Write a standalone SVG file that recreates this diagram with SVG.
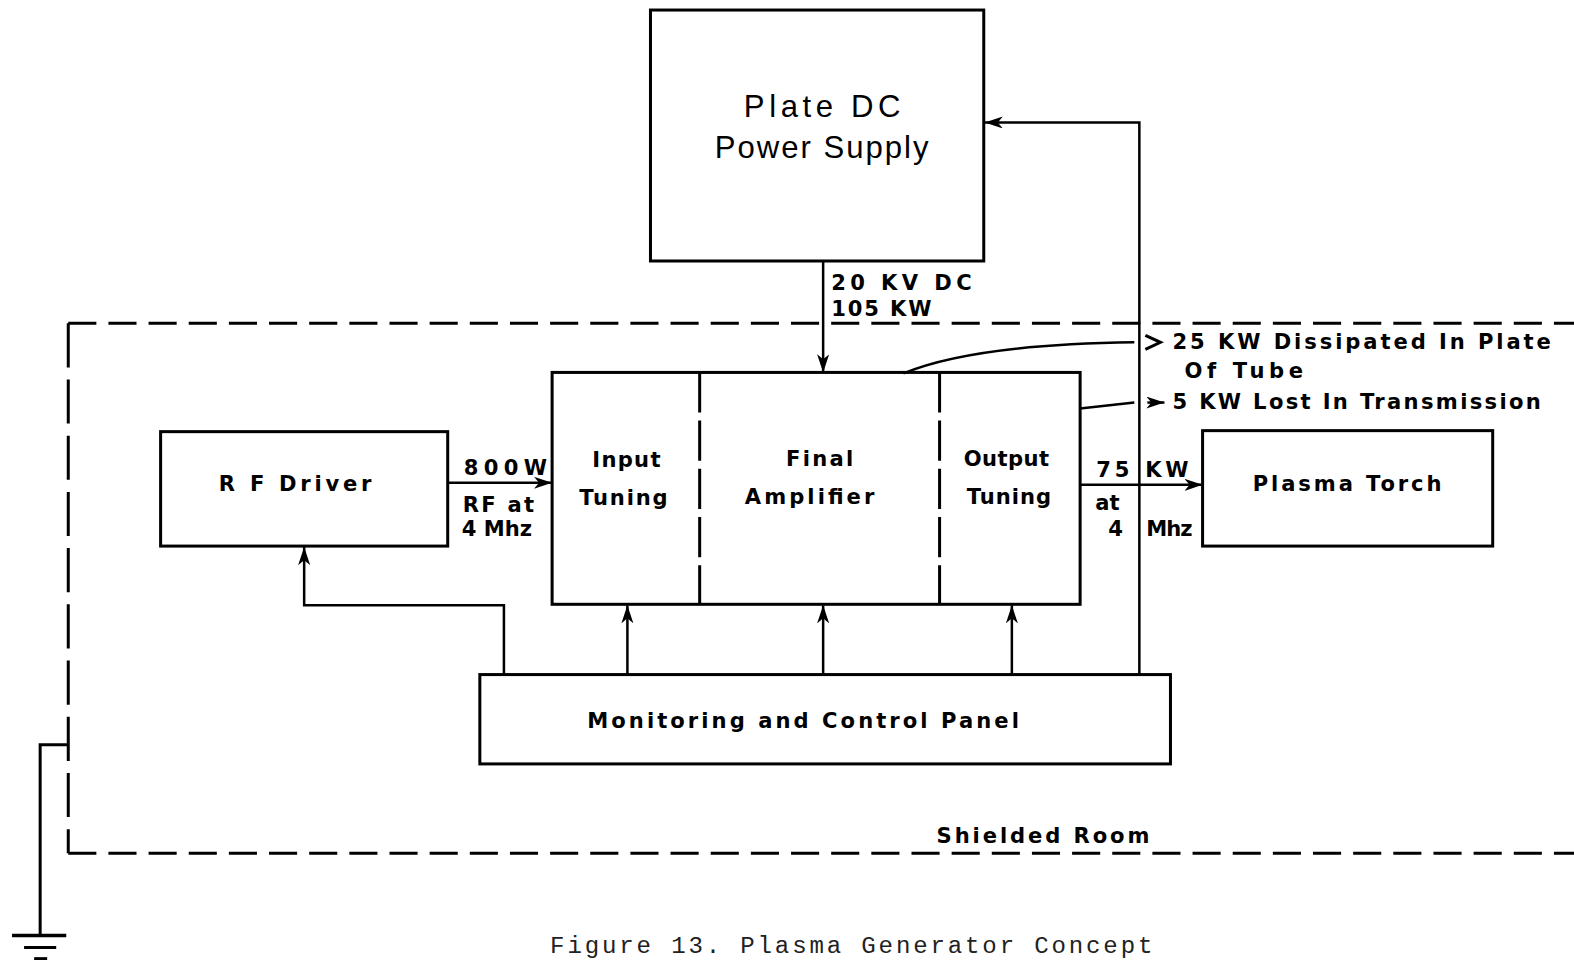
<svg xmlns="http://www.w3.org/2000/svg" width="1574" height="960" viewBox="0 0 1574 960">
<style>
.box{fill:none;stroke:#000;stroke-width:3}
.ln{fill:none;stroke:#000;stroke-width:2.5}
.dash{fill:none;stroke:#000;stroke-width:3;stroke-dasharray:28 12}
.vdash{fill:none;stroke:#000;stroke-width:3;stroke-dasharray:44 12}
.div{fill:none;stroke:#000;stroke-width:3;stroke-dasharray:40 8}
.t{font-family:"DejaVu Sans","Liberation Sans",Arial,sans-serif;font-weight:bold;font-size:21px;fill:#000}
.tl{font-family:"Liberation Sans",Arial,sans-serif;font-size:31px;fill:#000}
.cap{font-family:"Liberation Mono","Courier New",monospace;font-size:24px;fill:#222}
</style>
<defs>
<marker id="ar" markerUnits="userSpaceOnUse" markerWidth="20" markerHeight="14" refX="18" refY="6" orient="auto">
<path d="M0,0 L18,6 L0,12 L5,6 z" fill="#000"/>
</marker>
</defs>
<g transform="scale(1.00383)">
<g id="shielded-room">
<path class="dash" d="M68,322 H1574"/>
<path class="vdash" d="M68,322 V850"/>
<path class="dash" d="M68,850 H1574"/>
<text class="t" x="933" y="840" textLength="212" lengthAdjust="spacing">Shielded  Room</text>
</g>
<g id="ground">
<path class="ln" d="M68,742 H40 V932" style="stroke-width:3"/>
<path class="ln" d="M12,932 H66" style="stroke-width:3.5"/>
<path class="ln" d="M24,944 H56" style="stroke-width:3"/>
<path class="ln" d="M34,955 H47" style="stroke-width:3"/>
</g>
<g id="plate-dc">
<rect class="box" x="648" y="10" width="332" height="250"/>
<text class="tl" x="741" y="117" textLength="156" lengthAdjust="spacing">Plate DC</text>
<text class="tl" x="712" y="157" textLength="213" lengthAdjust="spacing">Power Supply</text>
</g>
<g id="rf-driver">
<rect class="box" x="160" y="430" width="286" height="114"/>
<text class="t" x="218" y="489" textLength="152" lengthAdjust="spacing">R  F  Driver</text>
</g>
<g id="amplifier">
<rect class="box" x="550" y="371" width="526" height="231"/>
<path class="div" d="M697,371 V602"/>
<path class="div" d="M936,371 V602"/>
<text class="t" x="590" y="465" textLength="68" lengthAdjust="spacing">Input</text>
<text class="t" x="577" y="503" textLength="88" lengthAdjust="spacing">Tuning</text>
<text class="t" x="783" y="464" textLength="67" lengthAdjust="spacing">Final</text>
<text class="t" x="742" y="502" textLength="129" lengthAdjust="spacing">Amplifier</text>
<text class="t" x="960" y="464" textLength="85" lengthAdjust="spacing">Output</text>
<text class="t" x="963" y="502" textLength="84" lengthAdjust="spacing">Tuning</text>
</g>
<g id="plasma-torch">
<rect class="box" x="1198" y="429" width="289" height="115"/>
<text class="t" x="1248" y="489" textLength="188" lengthAdjust="spacing">Plasma  Torch</text>
</g>
<g id="panel">
<rect class="box" x="478" y="672" width="688" height="89"/>
<text class="t" x="585" y="725" textLength="430" lengthAdjust="spacing">Monitoring  and  Control  Panel</text>
</g>
<g id="connectors">
<path class="ln" d="M820,260 V371" marker-end="url(#ar)"/>
<path class="ln" d="M1135,672 V122 H981" marker-end="url(#ar)"/>
<path class="ln" d="M446,481 H550" marker-end="url(#ar)"/>
<path class="ln" d="M1076,483 H1198" marker-end="url(#ar)"/>
<path class="ln" d="M502,672 V603 H303 V545" marker-end="url(#ar)"/>
<path class="ln" d="M625,672 V603" marker-end="url(#ar)"/>
<path class="ln" d="M820,672 V603" marker-end="url(#ar)"/>
<path class="ln" d="M1008,672 V603" marker-end="url(#ar)"/>
<path class="ln" d="M900,372 Q970,343 1130,341"/>
<path class="ln" d="M1141,334 L1156,341 L1141,348" style="stroke-width:3"/>
<path class="ln" d="M1076,407 L1130,401"/>
<path class="ln" d="M1143,401 H1160" marker-end="url(#ar)"/>
</g>
<g id="labels">
<text class="t" x="828" y="289" textLength="140" lengthAdjust="spacing">20 KV  DC</text>
<text class="t" x="828" y="315" textLength="100" lengthAdjust="spacing">105 KW</text>
<text class="t" x="1168" y="348" textLength="377" lengthAdjust="spacing">25 KW  Dissipated  In  Plate</text>
<text class="t" x="1180" y="377" textLength="118" lengthAdjust="spacing">Of  Tube</text>
<text class="t" x="1168" y="407" textLength="367" lengthAdjust="spacing">5  KW  Lost  In  Transmission</text>
<text class="t" x="462" y="473" textLength="83" lengthAdjust="spacing">800W</text>
<text class="t" x="461" y="510" textLength="71" lengthAdjust="spacing">RF at</text>
<text class="t" x="460" y="534" textLength="70" lengthAdjust="spacing">4 Mhz</text>
<text class="t" x="1092" y="475" textLength="33" lengthAdjust="spacing">75</text>
<text class="t" x="1141" y="475" textLength="43" lengthAdjust="spacing">KW</text>
<text class="t" x="1091" y="508">at</text>
<text class="t" x="1104" y="534">4</text>
<text class="t" x="1142" y="534" textLength="46" lengthAdjust="spacing">Mhz</text>
</g>
<text class="cap" x="548" y="949" textLength="600" lengthAdjust="spacing">Figure 13.  Plasma Generator Concept</text>
</g>
</svg>
